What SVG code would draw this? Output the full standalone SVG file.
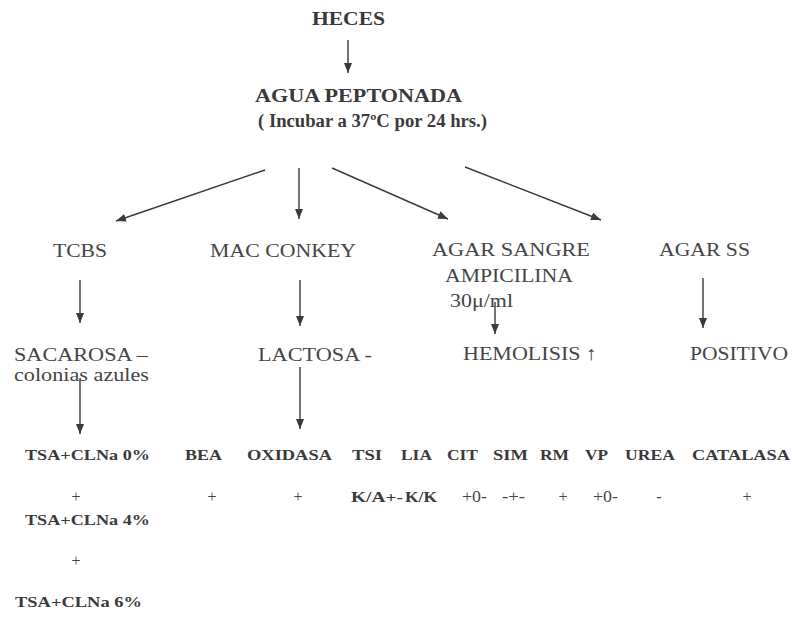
<svg xmlns="http://www.w3.org/2000/svg" width="794" height="617" viewBox="0 0 794 617">
<style>
text{font-family:"Liberation Serif","Times New Roman",serif;fill:#3a3a3a}
.h{font-weight:bold;font-size:18px}
.r{font-size:19.5px;fill:#454545}
.b{font-weight:bold;font-size:15px}
.v{font-size:16px;fill:#454545}
.c line{stroke:#3a3a3a;stroke-width:1.4;marker-end:url(#ah)}
</style>
<defs>
<marker id="ah" markerUnits="userSpaceOnUse" markerWidth="12" markerHeight="10" refX="10" refY="4" orient="auto">
<path d="M0,0 L10,4 L0,8 Z" fill="#3a3a3a"/>
</marker>
</defs>
<rect width="794" height="617" fill="#fff"/>
<g class="c" id="connectors">
<line x1="348" y1="40" x2="348" y2="73"/>
<line x1="265" y1="170" x2="116" y2="221"/>
<line x1="299" y1="168" x2="299" y2="219"/>
<line x1="332" y1="168" x2="448" y2="219"/>
<line x1="465" y1="167" x2="601" y2="220"/>
<line x1="80" y1="280" x2="80" y2="323"/>
<line x1="300" y1="280" x2="300" y2="326"/>
<line x1="495" y1="302" x2="495" y2="334"/>
<line x1="703" y1="278" x2="703" y2="328"/>
<line x1="80" y1="378" x2="80" y2="434"/>
<line x1="300" y1="367" x2="300" y2="429"/>
</g>
<g id="heces"><text class="h" x="312" y="25" textLength="73" lengthAdjust="spacingAndGlyphs">HECES</text></g>
<g id="agua"><text class="h" x="255" y="102" textLength="207" lengthAdjust="spacingAndGlyphs">AGUA PEPTONADA</text>
<text class="h" x="258" y="127" textLength="229" lengthAdjust="spacingAndGlyphs">( Incubar a 37ºC por 24 hrs.)</text></g>
<g id="tcbs"><text class="r" x="53" y="257" textLength="54" lengthAdjust="spacingAndGlyphs">TCBS</text></g>
<g id="macconkey"><text class="r" x="210" y="257" textLength="146" lengthAdjust="spacingAndGlyphs">MAC CONKEY</text></g>
<g id="agarsangre"><text class="r" x="432" y="256" textLength="158" lengthAdjust="spacingAndGlyphs">AGAR SANGRE</text>
<text class="r" x="445" y="282" textLength="128" lengthAdjust="spacingAndGlyphs">AMPICILINA</text>
<text class="r" x="450" y="307" textLength="63" lengthAdjust="spacingAndGlyphs">30μ/ml</text></g>
<g id="agarss"><text class="r" x="659" y="256" textLength="91" lengthAdjust="spacingAndGlyphs">AGAR SS</text></g>
<g id="sacarosa"><text class="r" x="14" y="361" textLength="134" lengthAdjust="spacingAndGlyphs">SACAROSA –</text>
<text class="r" x="14" y="381" textLength="135" lengthAdjust="spacingAndGlyphs">colonias azules</text></g>
<g id="lactosa"><text class="r" x="258" y="361" textLength="114" lengthAdjust="spacingAndGlyphs">LACTOSA -</text></g>
<g id="hemolisis"><text class="r" x="463" y="360" textLength="134" lengthAdjust="spacingAndGlyphs">HEMOLISIS ↑</text></g>
<g id="positivo"><text class="r" x="690" y="360" textLength="98" lengthAdjust="spacingAndGlyphs">POSITIVO</text></g>
<g id="tests">
<text class="b" x="25" y="460" textLength="125" lengthAdjust="spacingAndGlyphs">TSA+CLNa 0%</text>
<text class="b" x="185" y="460" textLength="37" lengthAdjust="spacingAndGlyphs">BEA</text>
<text class="b" x="247" y="460" textLength="85" lengthAdjust="spacingAndGlyphs">OXIDASA</text>
<text class="b" x="352" y="460" textLength="30" lengthAdjust="spacingAndGlyphs">TSI</text>
<text class="b" x="401" y="460" textLength="31" lengthAdjust="spacingAndGlyphs">LIA</text>
<text class="b" x="447" y="460" textLength="31" lengthAdjust="spacingAndGlyphs">CIT</text>
<text class="b" x="493" y="460" textLength="35" lengthAdjust="spacingAndGlyphs">SIM</text>
<text class="b" x="540" y="460" textLength="29" lengthAdjust="spacingAndGlyphs">RM</text>
<text class="b" x="585" y="460" textLength="23" lengthAdjust="spacingAndGlyphs">VP</text>
<text class="b" x="625" y="460" textLength="50" lengthAdjust="spacingAndGlyphs">UREA</text>
<text class="b" x="692" y="460" textLength="98" lengthAdjust="spacingAndGlyphs">CATALASA</text>
</g>
<g id="results">
<text class="v" x="76" y="502" text-anchor="middle">+</text>
<text class="v" x="212" y="502" text-anchor="middle">+</text>
<text class="v" x="298" y="502" text-anchor="middle">+</text>
<text class="b" x="351" y="502" textLength="52" lengthAdjust="spacingAndGlyphs">K/A+-</text>
<text class="b" x="405" y="502" textLength="32" lengthAdjust="spacingAndGlyphs">K/K</text>
<text class="v" x="462" y="502" textLength="25" lengthAdjust="spacingAndGlyphs">+0-</text>
<text class="v" x="502" y="502" textLength="23" lengthAdjust="spacingAndGlyphs">-+-</text>
<text class="v" x="563" y="502" text-anchor="middle">+</text>
<text class="v" x="593" y="502" textLength="25" lengthAdjust="spacingAndGlyphs">+0-</text>
<text class="v" x="659" y="502" text-anchor="middle">-</text>
<text class="v" x="747" y="502" text-anchor="middle">+</text>
</g>
<g id="tsa4"><text class="b" x="25" y="525" textLength="125" lengthAdjust="spacingAndGlyphs">TSA+CLNa 4%</text>
<text class="v" x="76" y="566" text-anchor="middle">+</text></g>
<g id="tsa6"><text class="b" x="15" y="607" textLength="127" lengthAdjust="spacingAndGlyphs">TSA+CLNa 6%</text></g>
</svg>
